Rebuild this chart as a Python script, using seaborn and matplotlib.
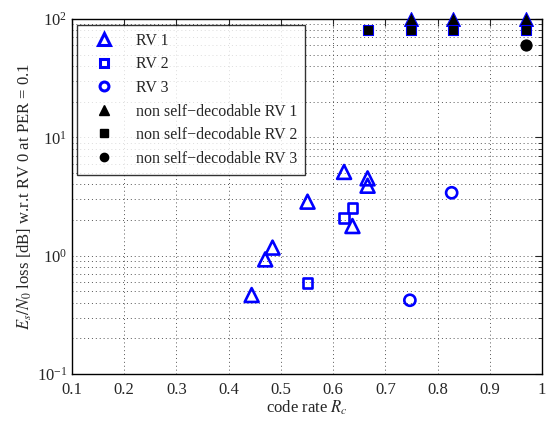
import matplotlib
matplotlib.use("Agg")
import matplotlib.pyplot as plt
import seaborn as sns
import pandas as pd
import numpy as np
from matplotlib.lines import Line2D
from matplotlib.ticker import LogLocator, NullFormatter, FixedLocator

# Data
rv1_rate = [0.444, 0.470, 0.484, 0.551, 0.621, 0.637, 0.666, 0.666]
rv1_loss = [0.465, 0.93, 1.17, 2.86, 5.1, 1.78, 4.5, 3.9]
rv2_rate = [0.551, 0.621, 0.637]
rv2_loss = [0.59, 2.09, 2.54]
rv3_rate = [0.747, 0.827]
rv3_loss = [0.42, 3.4]
nsd1_rate = [0.75, 0.83, 0.97]
nsd1_loss = [100, 100, 100]
nsd2_rate = [0.667, 0.75, 0.83, 0.97]
nsd2_loss = [80, 80, 80, 80]
nsd3_rate = [0.97]
nsd3_loss = [60]

x_ticks = [0.1, 0.2, 0.3, 0.4, 0.5, 0.6, 0.7, 0.8, 0.9, 1.0]
x_tick_labels = ["0.1", "0.2", "0.3", "0.4", "0.5", "0.6", "0.7", "0.8", "0.9", "1"]

sns.set_style("white")
plt.rcParams["font.family"] = ["Liberation Serif", "DejaVu Serif"]
plt.rcParams["mathtext.fontset"] = "stix"

fig = plt.figure(figsize=(5.51, 4.22), dpi=100)
ax = fig.add_axes([72/551, 1-374/422, 470/551, (374-19)/422])

blue = "#0000ff"
series = [
    ("RV 1", rv1_rate, rv1_loss, "^", 10, "none", blue, 1.9),
    ("RV 2", rv2_rate, rv2_loss, "s", 7, "none", blue, 1.9),
    ("RV 3", rv3_rate, rv3_loss, "o", 8, "none", blue, 1.9),
    ("non self\u2212decodable RV 1", nsd1_rate, nsd1_loss, "^", 10, "black", blue, 0.8),
    ("non self\u2212decodable RV 2", nsd2_rate, nsd2_loss, "s", 7, "black", blue, 0.8),
    ("non self\u2212decodable RV 3", nsd3_rate, nsd3_loss, "o", 8, "black", "black", 0.8),
]

handles = []
for label, xs, ys, mk, ms, fc, ec, lw in series:
    df = pd.DataFrame({"rate": xs, "loss": ys})
    sns.scatterplot(data=df, x="rate", y="loss", ax=ax, marker=mk, s=ms**2,
                    facecolor=fc, edgecolor=ec, linewidth=lw, clip_on=False, zorder=3)
    if fc == "none":
        h = Line2D([], [], linestyle="none", marker=mk, markersize=ms*0.8,
                   markerfacecolor="none", markeredgecolor=blue, markeredgewidth=2.2)
    else:
        h = Line2D([], [], linestyle="none", marker=mk, markersize=ms*0.75,
                   markerfacecolor="black", markeredgecolor="black")
    handles.append((h, label))

ax.set_yscale("log")
ax.set_xlim(0.1, 1.0)
ax.set_ylim(0.1, 100)
ax.xaxis.set_major_locator(FixedLocator(x_ticks))
ax.set_xticklabels(x_tick_labels)
ax.yaxis.set_minor_locator(LogLocator(base=10, subs=np.arange(2, 10)))
ax.yaxis.set_minor_formatter(NullFormatter())

ax.grid(True, which="major", linestyle=(0, (1, 3)), color="#555555", linewidth=0.7)
ax.grid(True, which="minor", axis="y", linestyle=(0, (1, 3)), color="#555555", linewidth=0.7)
ax.set_axisbelow(True)

ax.tick_params(which="both", direction="in", top=True, right=True, labelsize=12)
ax.tick_params(axis="x", pad=6)
ax.tick_params(which="major", length=5, width=0.8)
ax.tick_params(which="minor", length=3, width=0.6)
for sp in ax.spines.values():
    sp.set_color("black")
    sp.set_linewidth(1.0)

ax.set_xlabel("code rate $R_c$", fontsize=12, labelpad=0)
ax.set_ylabel("$E_s/N_0$ loss [dB] w.r.t RV 0 at PER = 0.1", fontsize=12, labelpad=2)

leg = ax.legend([h for h, _ in handles], [l for _, l in handles],
                loc="upper left", bbox_to_anchor=(5/470, 1-6/355), borderaxespad=0,
                fontsize=11.5, frameon=True, fancybox=False, edgecolor="black",
                handletextpad=0.8, labelspacing=0.47, borderpad=0.5, handlelength=2.4)
leg.get_frame().set_linewidth(1.0)
leg.set_zorder(5)

fig.savefig("out.png", dpi=100)
